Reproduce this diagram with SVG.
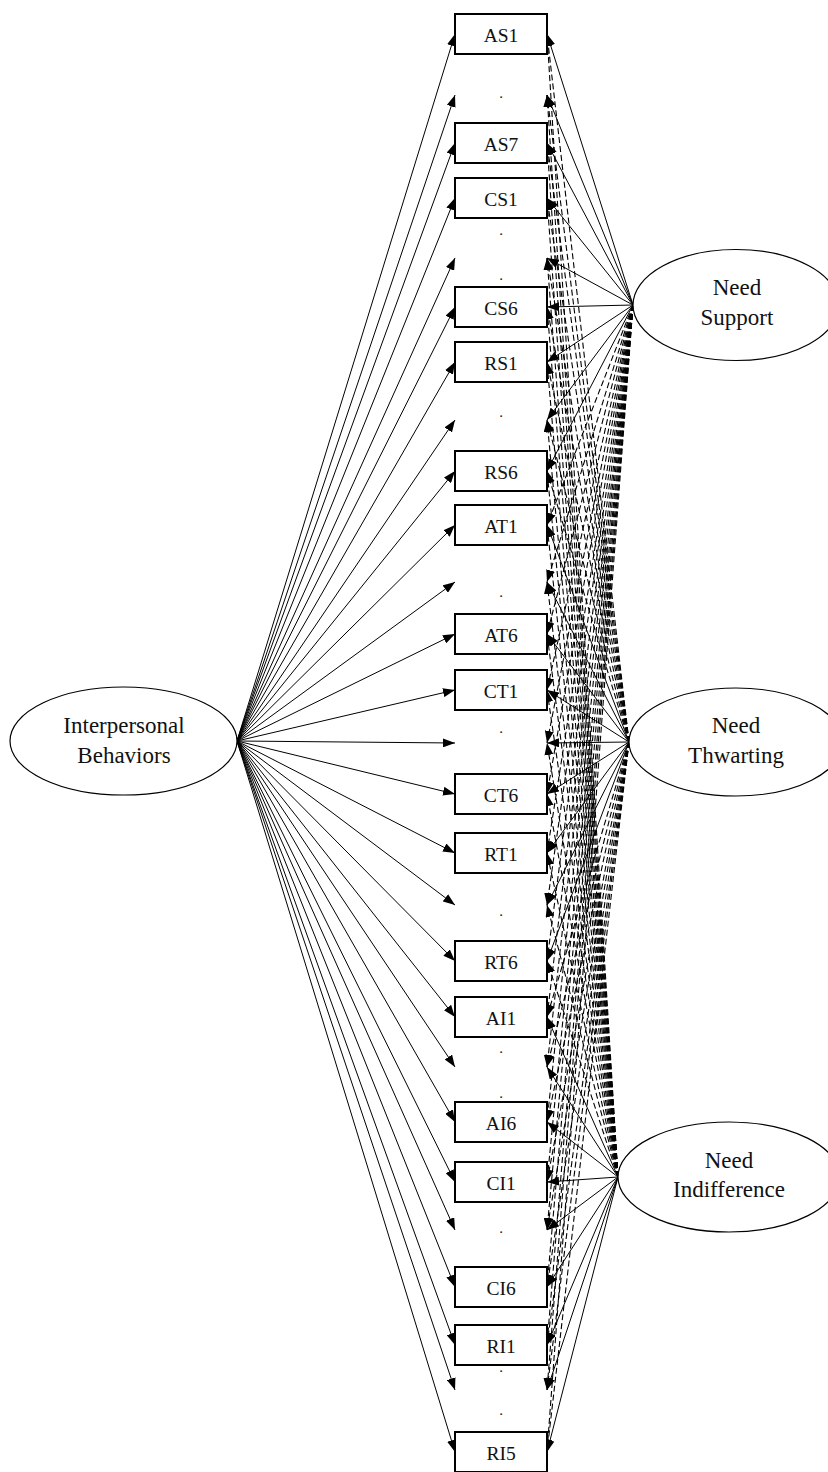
<svg xmlns="http://www.w3.org/2000/svg" width="828" height="1472" viewBox="0 0 828 1472">
<style>
.bg{fill:#fff}
.box{fill:#fff;stroke:#000;stroke-width:2}
.ell{fill:#fff;stroke:#000;stroke-width:1.2}
.t{font-family:"Liberation Serif","Times New Roman",serif;font-size:19.5px;fill:#111;text-anchor:middle}
.d{font-family:"Liberation Serif","Times New Roman",serif;font-size:15px;fill:#111;text-anchor:middle}
.te{font-family:"Liberation Serif","Times New Roman",serif;font-size:23px;fill:#111;text-anchor:middle}
.sl line{stroke:#000;stroke-width:1;fill:none;marker-end:url(#ah)}
.dl line{stroke:#000;stroke-width:1.1;fill:none;stroke-dasharray:6 3;marker-end:url(#ah)}
</style>
<defs>
<marker id="ah" viewBox="0 0 12 9" refX="12" refY="4.5" markerWidth="12" markerHeight="9" markerUnits="userSpaceOnUse" orient="auto">
<path d="M0,0 L12,4.5 L0,9 z" fill="#000"/>
</marker>
</defs>
<rect class="bg" x="0" y="0" width="828" height="1472"/>
<g id="connectors">
<g class="sl" id="left-loadings">
<line x1="237" y1="741" x2="455" y2="34"/>
<line x1="237" y1="741" x2="455" y2="95"/>
<line x1="237" y1="741" x2="455" y2="143"/>
<line x1="237" y1="741" x2="455" y2="198"/>
<line x1="237" y1="741" x2="455" y2="258"/>
<line x1="237" y1="741" x2="455" y2="307"/>
<line x1="237" y1="741" x2="455" y2="362"/>
<line x1="237" y1="741" x2="455" y2="420"/>
<line x1="237" y1="741" x2="455" y2="471"/>
<line x1="237" y1="741" x2="455" y2="525"/>
<line x1="237" y1="741" x2="455" y2="582"/>
<line x1="237" y1="741" x2="455" y2="634"/>
<line x1="237" y1="741" x2="455" y2="690"/>
<line x1="237" y1="741" x2="455" y2="743"/>
<line x1="237" y1="741" x2="455" y2="794"/>
<line x1="237" y1="741" x2="455" y2="853"/>
<line x1="237" y1="741" x2="455" y2="905"/>
<line x1="237" y1="741" x2="455" y2="961"/>
<line x1="237" y1="741" x2="455" y2="1017"/>
<line x1="237" y1="741" x2="455" y2="1067"/>
<line x1="237" y1="741" x2="455" y2="1122"/>
<line x1="237" y1="741" x2="455" y2="1182"/>
<line x1="237" y1="741" x2="455" y2="1230"/>
<line x1="237" y1="741" x2="455" y2="1287"/>
<line x1="237" y1="741" x2="455" y2="1345"/>
<line x1="237" y1="741" x2="455" y2="1390"/>
<line x1="237" y1="741" x2="455" y2="1452"/>
</g>
<g class="dl" id="cross-loadings">
<line x1="633" y1="305" x2="547" y2="525"/>
<line x1="633" y1="305" x2="547" y2="582"/>
<line x1="633" y1="305" x2="547" y2="634"/>
<line x1="633" y1="305" x2="547" y2="690"/>
<line x1="633" y1="305" x2="547" y2="743"/>
<line x1="633" y1="305" x2="547" y2="794"/>
<line x1="633" y1="305" x2="547" y2="853"/>
<line x1="633" y1="305" x2="547" y2="905"/>
<line x1="633" y1="305" x2="547" y2="961"/>
<line x1="633" y1="305" x2="547" y2="1017"/>
<line x1="633" y1="305" x2="547" y2="1067"/>
<line x1="633" y1="305" x2="547" y2="1122"/>
<line x1="633" y1="305" x2="547" y2="1182"/>
<line x1="633" y1="305" x2="547" y2="1230"/>
<line x1="633" y1="305" x2="547" y2="1287"/>
<line x1="633" y1="305" x2="547" y2="1345"/>
<line x1="633" y1="305" x2="547" y2="1390"/>
<line x1="633" y1="305" x2="547" y2="1452"/>
<line x1="629" y1="742" x2="547" y2="34"/>
<line x1="629" y1="742" x2="547" y2="95"/>
<line x1="629" y1="742" x2="547" y2="143"/>
<line x1="629" y1="742" x2="547" y2="198"/>
<line x1="629" y1="742" x2="547" y2="258"/>
<line x1="629" y1="742" x2="547" y2="307"/>
<line x1="629" y1="742" x2="547" y2="362"/>
<line x1="629" y1="742" x2="547" y2="420"/>
<line x1="629" y1="742" x2="547" y2="471"/>
<line x1="629" y1="742" x2="547" y2="1017"/>
<line x1="629" y1="742" x2="547" y2="1067"/>
<line x1="629" y1="742" x2="547" y2="1122"/>
<line x1="629" y1="742" x2="547" y2="1182"/>
<line x1="629" y1="742" x2="547" y2="1230"/>
<line x1="629" y1="742" x2="547" y2="1287"/>
<line x1="629" y1="742" x2="547" y2="1345"/>
<line x1="629" y1="742" x2="547" y2="1390"/>
<line x1="629" y1="742" x2="547" y2="1452"/>
<line x1="618" y1="1177" x2="547" y2="34"/>
<line x1="618" y1="1177" x2="547" y2="95"/>
<line x1="618" y1="1177" x2="547" y2="143"/>
<line x1="618" y1="1177" x2="547" y2="198"/>
<line x1="618" y1="1177" x2="547" y2="258"/>
<line x1="618" y1="1177" x2="547" y2="307"/>
<line x1="618" y1="1177" x2="547" y2="362"/>
<line x1="618" y1="1177" x2="547" y2="420"/>
<line x1="618" y1="1177" x2="547" y2="471"/>
<line x1="618" y1="1177" x2="547" y2="525"/>
<line x1="618" y1="1177" x2="547" y2="582"/>
<line x1="618" y1="1177" x2="547" y2="634"/>
<line x1="618" y1="1177" x2="547" y2="690"/>
<line x1="618" y1="1177" x2="547" y2="743"/>
<line x1="618" y1="1177" x2="547" y2="794"/>
<line x1="618" y1="1177" x2="547" y2="853"/>
<line x1="618" y1="1177" x2="547" y2="905"/>
<line x1="618" y1="1177" x2="547" y2="961"/>
</g>
<g class="sl" id="target-loadings">
<line x1="633" y1="305" x2="547" y2="34"/>
<line x1="633" y1="305" x2="547" y2="95"/>
<line x1="633" y1="305" x2="547" y2="143"/>
<line x1="633" y1="305" x2="547" y2="198"/>
<line x1="633" y1="305" x2="547" y2="258"/>
<line x1="633" y1="305" x2="547" y2="307"/>
<line x1="633" y1="305" x2="547" y2="362"/>
<line x1="633" y1="305" x2="547" y2="420"/>
<line x1="633" y1="305" x2="547" y2="471"/>
<line x1="629" y1="742" x2="547" y2="525"/>
<line x1="629" y1="742" x2="547" y2="582"/>
<line x1="629" y1="742" x2="547" y2="634"/>
<line x1="629" y1="742" x2="547" y2="690"/>
<line x1="629" y1="742" x2="547" y2="743"/>
<line x1="629" y1="742" x2="547" y2="794"/>
<line x1="629" y1="742" x2="547" y2="853"/>
<line x1="629" y1="742" x2="547" y2="905"/>
<line x1="629" y1="742" x2="547" y2="961"/>
<line x1="618" y1="1177" x2="547" y2="1017"/>
<line x1="618" y1="1177" x2="547" y2="1067"/>
<line x1="618" y1="1177" x2="547" y2="1122"/>
<line x1="618" y1="1177" x2="547" y2="1182"/>
<line x1="618" y1="1177" x2="547" y2="1230"/>
<line x1="618" y1="1177" x2="547" y2="1287"/>
<line x1="618" y1="1177" x2="547" y2="1345"/>
<line x1="618" y1="1177" x2="547" y2="1390"/>
<line x1="618" y1="1177" x2="547" y2="1452"/>
</g>
</g>
<g id="latent-IB"><ellipse class="ell" cx="123.5" cy="741" rx="113.5" ry="54"/><text class="te" x="124" y="733">Interpersonal</text><text class="te" x="124" y="763">Behaviors</text></g>
<g id="latent-NS"><ellipse class="ell" cx="736" cy="305" rx="103" ry="55.5"/><text class="te" x="737" y="295">Need</text><text class="te" x="737" y="325">Support</text></g>
<g id="latent-NT"><ellipse class="ell" cx="736" cy="742" rx="107" ry="54"/><text class="te" x="736" y="733">Need</text><text class="te" x="736" y="763">Thwarting</text></g>
<g id="latent-NI"><ellipse class="ell" cx="729" cy="1177" rx="111" ry="55"/><text class="te" x="729" y="1168">Need</text><text class="te" x="729" y="1197">Indifference</text></g>
<g id="AS1"><rect class="box" x="455" y="14" width="92" height="40"/><text class="t" x="501" y="42">AS1</text></g>
<g id="dots1"><text class="d" x="501" y="98">.</text></g>
<g id="AS7"><rect class="box" x="455" y="123" width="92" height="40"/><text class="t" x="501" y="151">AS7</text></g>
<g id="CS1"><rect class="box" x="455" y="178" width="92" height="40"/><text class="t" x="501" y="206">CS1</text></g>
<g id="dots2"><text class="d" x="501" y="235">.</text><text class="d" x="501" y="280">.</text></g>
<g id="CS6"><rect class="box" x="455" y="287" width="92" height="40"/><text class="t" x="501" y="315">CS6</text></g>
<g id="RS1"><rect class="box" x="455" y="342" width="92" height="40"/><text class="t" x="501" y="370">RS1</text></g>
<g id="dots3"><text class="d" x="501" y="417">.</text></g>
<g id="RS6"><rect class="box" x="455" y="451" width="92" height="40"/><text class="t" x="501" y="479">RS6</text></g>
<g id="AT1"><rect class="box" x="455" y="505" width="92" height="40"/><text class="t" x="501" y="533">AT1</text></g>
<g id="dots4"><text class="d" x="501" y="597">.</text></g>
<g id="AT6"><rect class="box" x="455" y="614" width="92" height="40"/><text class="t" x="501" y="642">AT6</text></g>
<g id="CT1"><rect class="box" x="455" y="670" width="92" height="40"/><text class="t" x="501" y="698">CT1</text></g>
<g id="dots5"><text class="d" x="501" y="733">.</text></g>
<g id="CT6"><rect class="box" x="455" y="774" width="92" height="40"/><text class="t" x="501" y="802">CT6</text></g>
<g id="RT1"><rect class="box" x="455" y="833" width="92" height="40"/><text class="t" x="501" y="861">RT1</text></g>
<g id="dots6"><text class="d" x="501" y="916">.</text></g>
<g id="RT6"><rect class="box" x="455" y="941" width="92" height="40"/><text class="t" x="501" y="969">RT6</text></g>
<g id="AI1"><rect class="box" x="455" y="997" width="92" height="40"/><text class="t" x="501" y="1025">AI1</text></g>
<g id="dots7"><text class="d" x="501" y="1053">.</text><text class="d" x="501" y="1098">.</text></g>
<g id="AI6"><rect class="box" x="455" y="1102" width="92" height="40"/><text class="t" x="501" y="1130">AI6</text></g>
<g id="CI1"><rect class="box" x="455" y="1162" width="92" height="40"/><text class="t" x="501" y="1190">CI1</text></g>
<g id="dots8"><text class="d" x="501" y="1233">.</text></g>
<g id="CI6"><rect class="box" x="455" y="1267" width="92" height="40"/><text class="t" x="501" y="1295">CI6</text></g>
<g id="RI1"><rect class="box" x="455" y="1325" width="92" height="40"/><text class="t" x="501" y="1353">RI1</text></g>
<g id="dots9"><text class="d" x="501" y="1372">.</text><text class="d" x="501" y="1415">.</text></g>
<g id="RI5"><rect class="box" x="455" y="1432" width="92" height="40"/><text class="t" x="501" y="1460">RI5</text></g>
</svg>
